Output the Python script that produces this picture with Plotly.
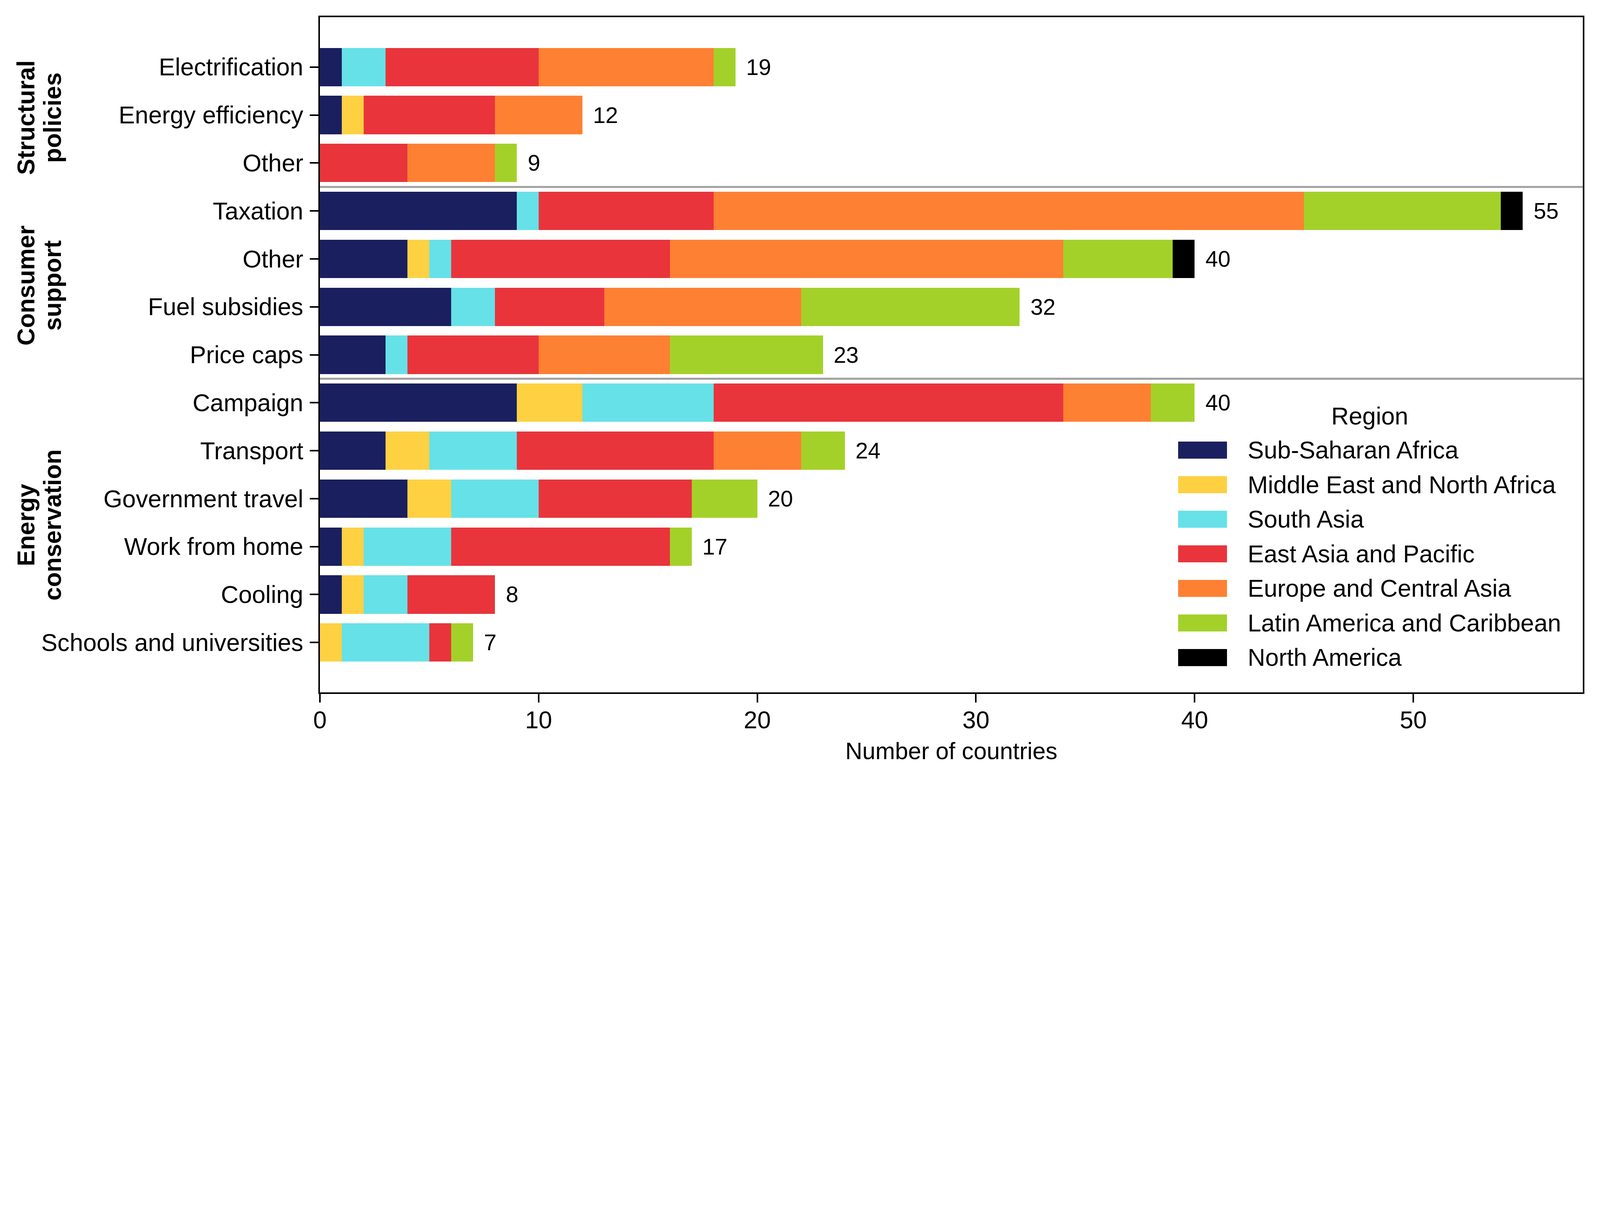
import plotly.graph_objects as go

# policy measures, top to bottom
categories = ["Electrification", "Energy efficiency", "Other",
              "Taxation", "Other", "Fuel subsidies", "Price caps",
              "Campaign", "Transport", "Government travel", "Work from home",
              "Cooling", "Schools and universities"]

regions = ["Sub-Saharan Africa", "Middle East and North Africa", "South Asia",
           "East Asia and Pacific", "Europe and Central Asia",
           "Latin America and Caribbean", "North America"]

ssa = [1, 1, 0, 9, 4, 6, 3, 9, 3, 4, 1, 1, 0]
mena = [0, 1, 0, 0, 1, 0, 0, 3, 2, 2, 1, 1, 1]
sa = [2, 0, 0, 1, 1, 2, 1, 6, 4, 4, 4, 2, 4]
eap = [7, 6, 4, 8, 10, 5, 6, 16, 9, 7, 10, 4, 1]
eca = [8, 4, 4, 27, 18, 9, 6, 4, 4, 0, 0, 0, 0]
lac = [1, 0, 1, 9, 5, 10, 7, 2, 2, 3, 1, 0, 1]
nam = [0, 0, 0, 1, 1, 0, 0, 0, 0, 0, 0, 0, 0]

groups = [["Structural", "policies"], ["Consumer", "support"], ["Energy", "conservation"]]
group_rows = [(0, 2), (3, 6), (7, 12)]

colors = ["#1a1f5f", "#fdd142", "#66e1e8", "#e9343c", "#fe8033", "#a3d129", "#000000"]

FONT = "Arial, Liberation Sans, sans-serif"
W, H = 6385, 3119
S = 4096 / W  # css px per reference px (browser shows ~4096 px wide)
BODY = 8      # default page margin of the html body
L, R, T, B = 1276, 6316, 68, 2763  # plot area in reference pixels

series = [ssa, mena, sa, eap, eca, lac, nam]
ypos = list(range(len(categories)))
totals = [sum(v) for v in zip(*series)]

fig = go.Figure()
for name, vals, col in zip(regions, series, colors):
    fig.add_trace(go.Bar(y=ypos, x=vals, orientation="h", name=name,
                         marker=dict(color=col, line=dict(width=0)),
                         width=0.8, showlegend=False))

# total labels at bar ends
for y, t in zip(ypos, totals):
    fig.add_annotation(x=t, y=y, xref="x", yref="y", text=str(t), showarrow=False,
                       xanchor="left", yanchor="middle", xshift=40 * S,
                       font=dict(family=FONT, size=90 * S, color="black"))

# separators between groups
for (a, b) in group_rows[:-1]:
    fig.add_shape(type="line", xref="paper", yref="y", x0=0, x1=1, y0=b + 0.5, y1=b + 0.5,
                  line=dict(color="#a0a0a0", width=8 * S), layer="above")


def px_x(p):
    return (p - L) / (R - L)


def px_y(p):
    return (B - p) / (B - T)


# group labels, one annotation per line
for g, (a, b) in zip(groups, group_rows):
    for line, xp in zip(g, [104, 210]):
        fig.add_annotation(x=px_x(xp), y=(a + b) / 2, xref="paper", yref="y",
                           text="<b>" + line + "</b>", showarrow=False, textangle=-90,
                           xanchor="center", yanchor="middle", yshift=-10 * S,
                           font=dict(family=FONT, size=97 * S, color="black"))

# legend drawn by hand so the patches match the reference size
fig.add_annotation(x=px_x(5466), y=px_y(1660), xref="paper", yref="paper", text="Region",
                   showarrow=False, xanchor="center", yanchor="middle",
                   font=dict(family=FONT, size=97 * S, color="black"))
for i, (name, col) in enumerate(zip(regions, colors)):
    cy = 1796 + 138 * i
    fig.add_shape(type="rect", xref="paper", yref="paper",
                  x0=px_x(4701), x1=px_x(4896), y0=px_y(cy + 34), y1=px_y(cy - 34),
                  fillcolor=col, line=dict(width=0))
    fig.add_annotation(x=px_x(4975), y=px_y(cy), xref="paper", yref="paper", text=name,
                       showarrow=False, xanchor="left", yanchor="middle",
                       font=dict(family=FONT, size=97 * S, color="black"))

fig.update_layout(
    width=round(W * S - BODY), height=round(H * S - BODY),
    margin=dict(l=L * S - BODY, r=(W - R) * S, t=T * S - BODY, b=(H - B) * S, pad=0),
    barmode="stack", bargap=0.2,
    plot_bgcolor="white", paper_bgcolor="white",
    font=dict(family=FONT, size=97 * S, color="black"),
    xaxis=dict(range=[0, 57.75], tickvals=[0, 10, 20, 30, 40, 50],
               showgrid=False, zeroline=False,
               showline=True, linecolor="black", linewidth=7 * S, mirror=True,
               ticks="outside", ticklen=34 * S, tickwidth=7 * S, tickcolor="black",
               tickfont=dict(size=97 * S), ticklabelstandoff=-9,
               title=dict(text="Number of countries", font=dict(size=94 * S), standoff=40 * S)),
    yaxis=dict(range=[len(categories) - 1 + 1.04, -1.04], tickvals=ypos, ticktext=categories,
               showgrid=False, zeroline=False,
               showline=True, linecolor="black", linewidth=7 * S, mirror=True,
               ticks="outside", ticklen=34 * S, tickwidth=7 * S, tickcolor="black",
               tickfont=dict(size=97 * S), ticklabelstandoff=round(7 * S)),
)

fig.write_html("out.html")
